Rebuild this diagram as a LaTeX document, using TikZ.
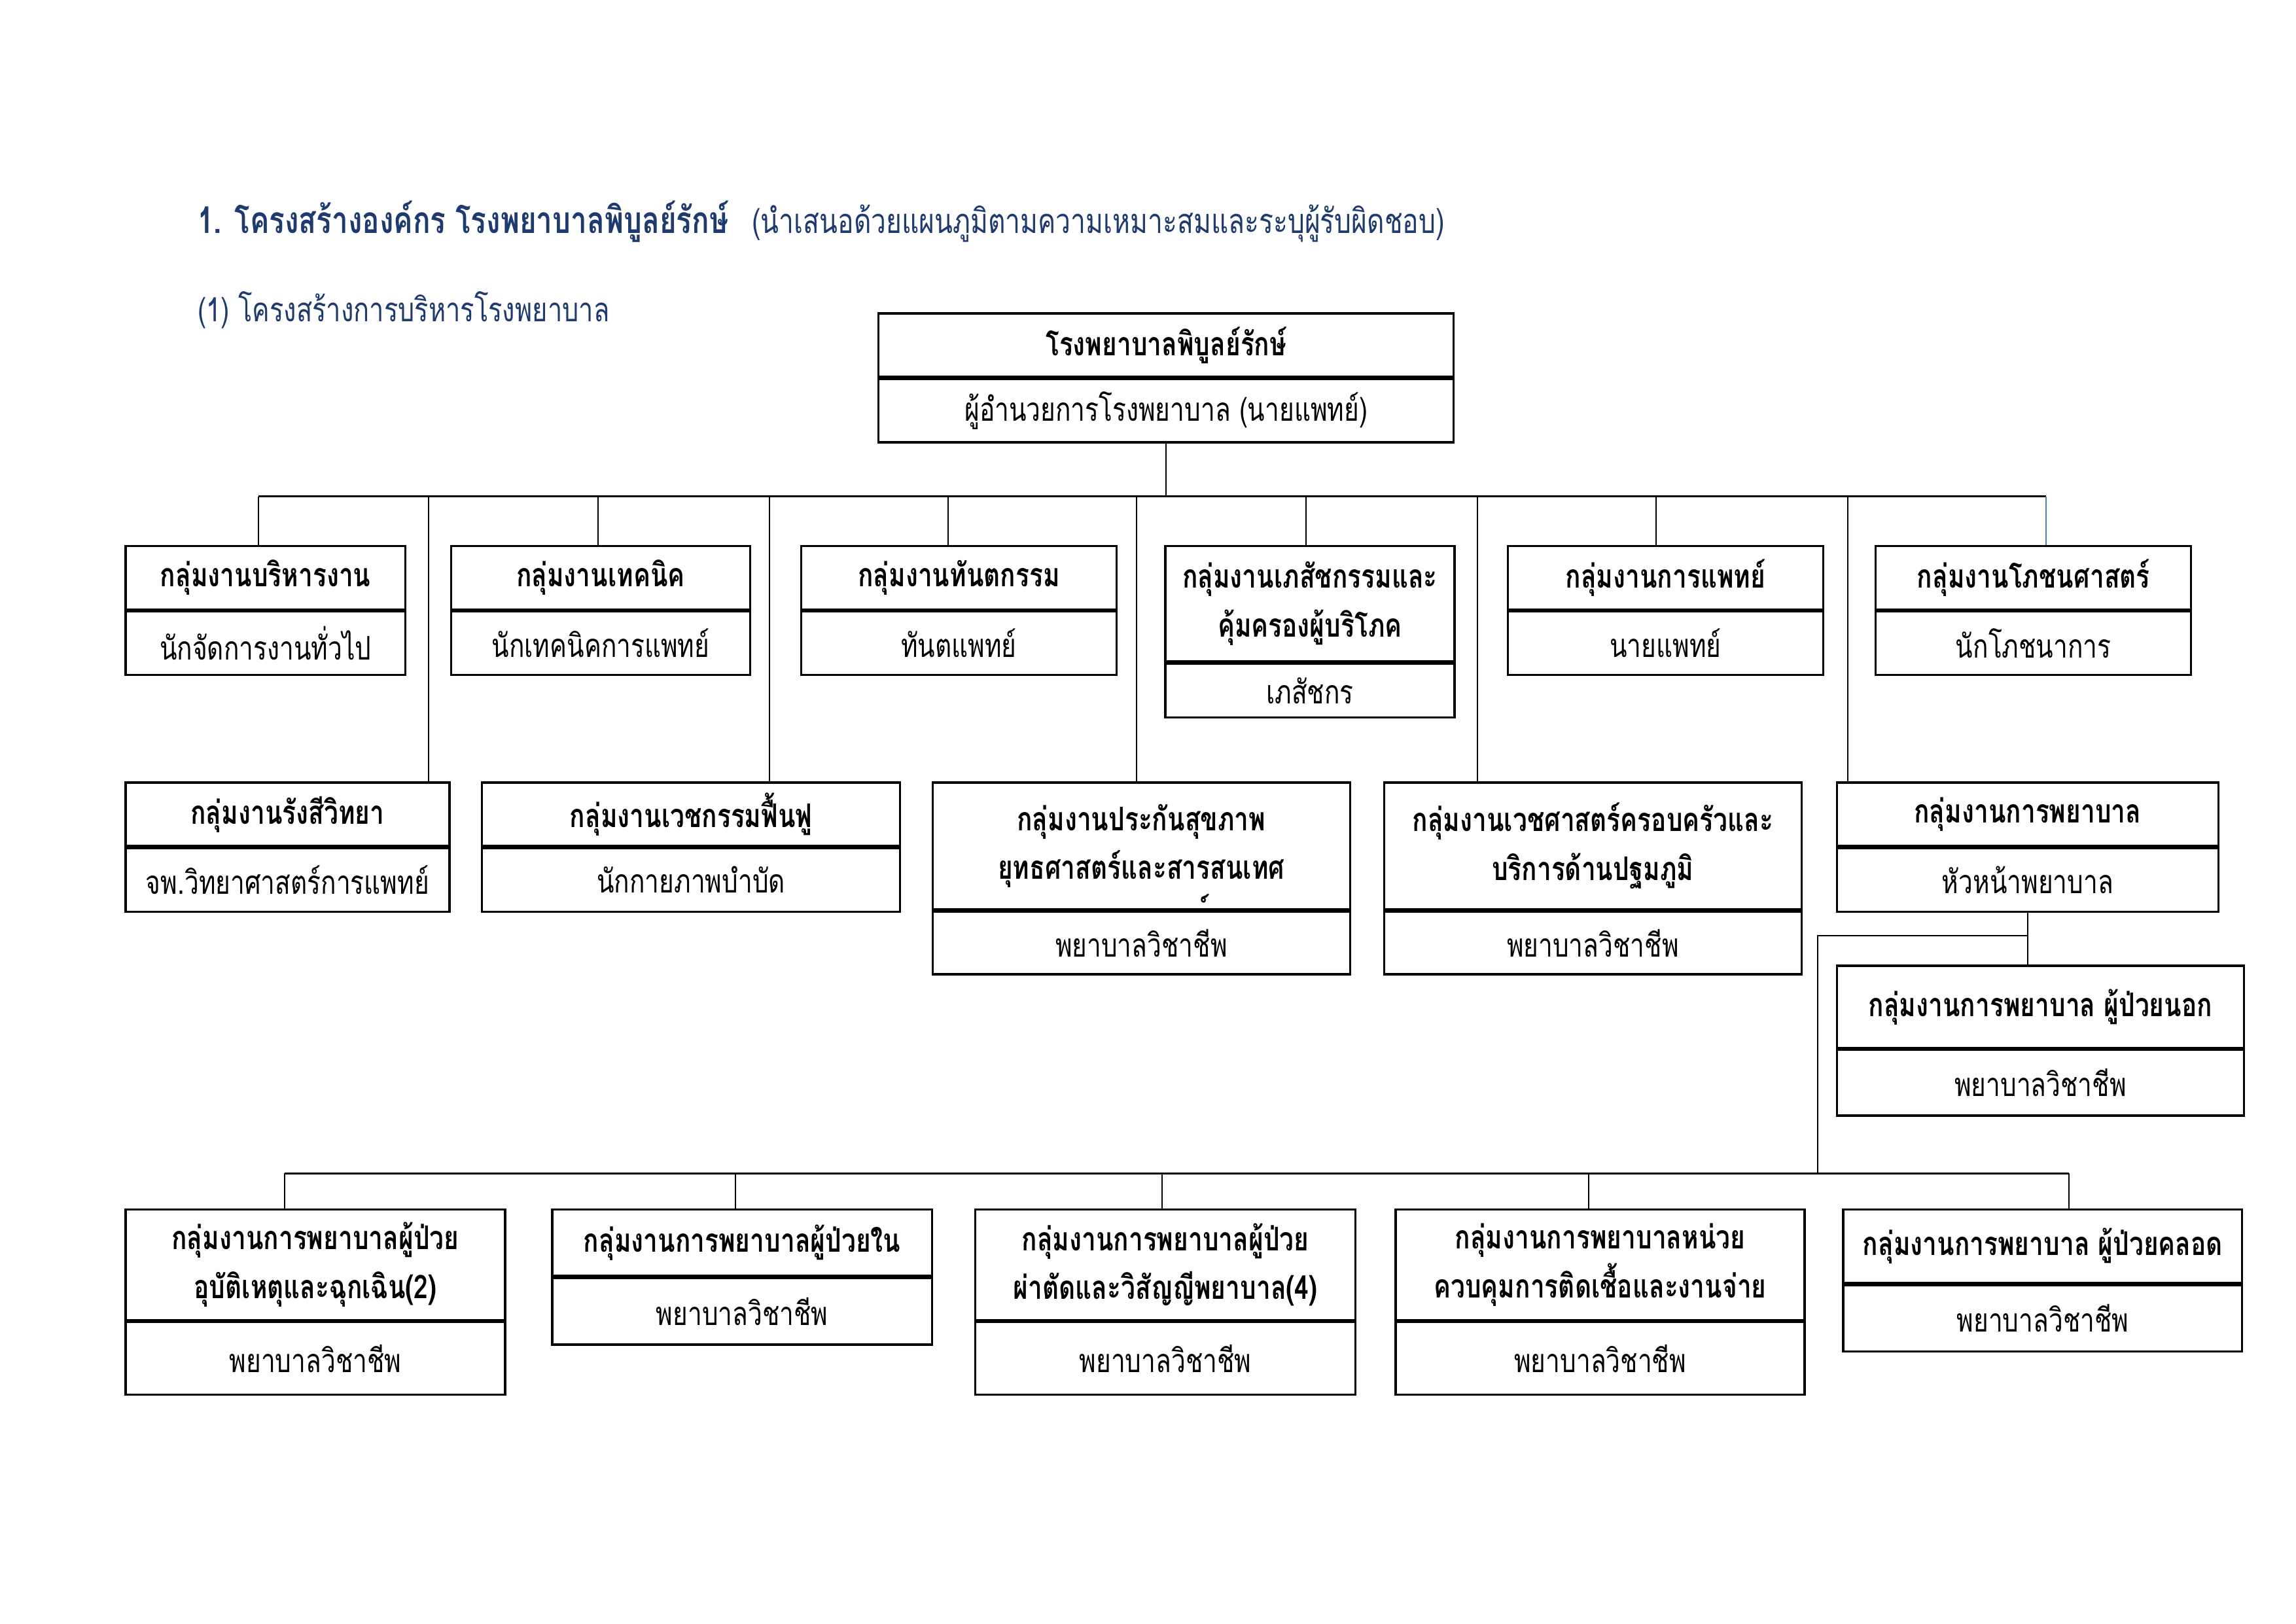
\documentclass[tikz,border=0pt]{standalone}
\usepackage{fontspec}
\newfontfamily\thaifont[Script=Thai, FakeStretch=0.78]{Loma}
\usetikzlibrary{positioning}
\definecolor{navy}{HTML}{1F3A6E}
\definecolor{linkblue}{HTML}{4F81BD}
\tikzset{grouphead/.style={
    draw=black,
    line width=0.8pt,
    anchor=north west,
    align=center,
    inner sep=0pt,
    font=\thaifont\fontsize{12}{18}\selectfont\bfseries}}
\tikzset{groupstaff/.style={
    draw=black,
    line width=0.8pt,
    align=center,
    inner sep=0pt,
    font=\thaifont\fontsize{12}{18}\selectfont}}
\tikzset{heading/.style={
    text=navy,
    inner sep=0pt,
    text height=3.6mm,
    text depth=1.2mm,
    font=\thaifont\fontsize{12.6}{16}\selectfont}}
\tikzset{link/.style={
    draw=black,
    line width=0.5pt}}
\tikzset{bus/.style={
    draw=black,
    line width=0.8pt}}

\begin{document}
\begin{tikzpicture}[x=1mm,y=-1mm]
\useasboundingbox (0,0) rectangle (297,210);

% headings
\node[heading, anchor=west, font=\thaifont\fontsize{13.6}{16}\selectfont\bfseries] (title) at (25.5,29.0) {1. โครงสร้างองค์กร โรงพยาบาลพิบูลย์รักษ์};
\node[heading, right=2.9mm of title] (title-note) {(นำเสนอด้วยแผนภูมิตามความเหมาะสมและระบุผู้รับผิดชอบ)};
\node[heading, anchor=west, font=\thaifont\fontsize{12.3}{16}\selectfont] (subtitle) at (25.5,40.4) {(1) โครงสร้างการบริหารโรงพยาบาล};

% director
\node[grouphead, minimum width=74.4mm, minimum height=8.2mm] (hosp) at (113.5,40.4) {โรงพยาบาลพิบูลย์รักษ์};
\node[groupstaff, minimum width=74.4mm, minimum height=8.2mm, below=0pt of hosp] (hosp-s) {ผู้อำนวยการโรงพยาบาล (นายแพทย์)};

% first row
\node[grouphead, minimum width=36.2mm, minimum height=8.2mm] (adm) at (16.1,70.5) {กลุ่มงานบริหารงาน};
\node[groupstaff, minimum width=36.2mm, minimum height=8.2mm, below=0pt of adm] (adm-s) {นักจัดการงานทั่วไป};
\node[grouphead, minimum width=38.7mm, minimum height=8.2mm] (tech) at (58.2,70.5) {กลุ่มงานเทคนิค};
\node[groupstaff, minimum width=38.7mm, minimum height=8.2mm, below=0pt of tech] (tech-s) {นักเทคนิคการแพทย์};
\node[grouphead, minimum width=40.8mm, minimum height=8.2mm] (dent) at (103.5,70.5) {กลุ่มงานทันตกรรม};
\node[groupstaff, minimum width=40.8mm, minimum height=8.2mm, below=0pt of dent] (dent-s) {ทันตแพทย์};
\node[grouphead, minimum width=37.4mm, minimum height=14.9mm] (pharm) at (150.6,70.5) {กลุ่มงานเภสัชกรรมและ\\คุ้มครองผู้บริโภค};
\node[groupstaff, minimum width=37.4mm, minimum height=7.0mm, below=0pt of pharm] (pharm-s) {เภสัชกร};
\node[grouphead, minimum width=40.8mm, minimum height=8.2mm] (med) at (194.9,70.5) {กลุ่มงานการแพทย์};
\node[groupstaff, minimum width=40.8mm, minimum height=8.2mm, below=0pt of med] (med-s) {นายแพทย์};
\node[grouphead, minimum width=40.8mm, minimum height=8.2mm] (nut) at (242.5,70.5) {กลุ่มงานโภชนศาสตร์};
\node[groupstaff, minimum width=40.8mm, minimum height=8.2mm, below=0pt of nut] (nut-s) {นักโภชนาการ};

% second row
\node[grouphead, minimum width=41.9mm, minimum height=8.2mm] (ray) at (16.1,101.1) {กลุ่มงานรังสีวิทยา};
\node[groupstaff, minimum width=41.9mm, minimum height=8.2mm, below=0pt of ray] (ray-s) {จพ.วิทยาศาสตร์การแพทย์};
\node[grouphead, minimum width=54.1mm, minimum height=8.2mm] (rehab) at (62.2,101.1) {กลุ่มงานเวชกรรมฟื้นฟู};
\node[groupstaff, minimum width=54.1mm, minimum height=8.2mm, below=0pt of rehab] (rehab-s) {นักกายภาพบำบัด};
\node[grouphead, minimum width=54.0mm, minimum height=16.4mm] (ins) at (120.5,101.1) {กลุ่มงานประกันสุขภาพ\\ยุทธศาสตร์และสารสนเทศ\smash{\rlap{\hspace*{-9.8mm}\raisebox{-6.4mm}{์}}}};
\node[groupstaff, minimum width=54.0mm, minimum height=8.1mm, below=0pt of ins] (ins-s) {พยาบาลวิชาชีพ};
\node[grouphead, minimum width=54.0mm, minimum height=16.4mm] (fam) at (178.9,101.1) {กลุ่มงานเวชศาสตร์ครอบครัวและ\\บริการด้านปฐมภูมิ};
\node[groupstaff, minimum width=54.0mm, minimum height=8.1mm, below=0pt of fam] (fam-s) {พยาบาลวิชาชีพ};
\node[grouphead, minimum width=49.3mm, minimum height=8.2mm] (nur) at (237.5,101.1) {กลุ่มงานการพยาบาล};
\node[groupstaff, minimum width=49.3mm, minimum height=8.2mm, below=0pt of nur] (nur-s) {หัวหน้าพยาบาล};
\node[grouphead, minimum width=52.6mm, minimum height=10.6mm] (opd) at (237.5,124.8) {กลุ่มงานการพยาบาล ผู้ป่วยนอก};
\node[groupstaff, minimum width=52.6mm, minimum height=8.5mm, below=0pt of opd] (opd-s) {พยาบาลวิชาชีพ};

% third row
\node[grouphead, minimum width=49.1mm, minimum height=14.3mm] (er) at (16.1,156.3) {กลุ่มงานการพยาบาลผู้ป่วย\\อุบัติเหตุและฉุกเฉิน(2)};
\node[groupstaff, minimum width=49.1mm, minimum height=9.4mm, below=0pt of er] (er-s) {พยาบาลวิชาชีพ};
\node[grouphead, minimum width=49.1mm, minimum height=8.6mm] (ipd) at (71.3,156.3) {กลุ่มงานการพยาบาลผู้ป่วยใน};
\node[groupstaff, minimum width=49.1mm, minimum height=8.6mm, below=0pt of ipd] (ipd-s) {พยาบาลวิชาชีพ};
\node[grouphead, minimum width=49.2mm, minimum height=14.3mm] (surg) at (126.0,156.3) {กลุ่มงานการพยาบาลผู้ป่วย\\ผ่าตัดและวิสัญญีพยาบาล(4)};
\node[groupstaff, minimum width=49.2mm, minimum height=9.4mm, below=0pt of surg] (surg-s) {พยาบาลวิชาชีพ};
\node[grouphead, minimum width=52.9mm, minimum height=14.3mm] (ic) at (180.4,156.3) {กลุ่มงานการพยาบาลหน่วย\\ควบคุมการติดเชื้อและงานจ่าย};
\node[groupstaff, minimum width=52.9mm, minimum height=9.4mm, below=0pt of ic] (ic-s) {พยาบาลวิชาชีพ};
\node[grouphead, minimum width=51.6mm, minimum height=9.5mm] (lr) at (238.3,156.3) {กลุ่มงานการพยาบาล ผู้ป่วยคลอด};
\node[groupstaff, minimum width=51.6mm, minimum height=8.6mm, below=0pt of lr] (lr-s) {พยาบาลวิชาชีพ};

% connectors
\coordinate (bus1) at (0,64.2);
\coordinate (bus2) at (0,151.8);
\draw[link] (hosp-s.south) -- (hosp-s.south |- bus1);
\foreach \n/\s in {adm/-0.9mm,tech/-0.35mm,dent/-1.4mm,pharm/-0.5mm,med/-1.2mm,nut/1.6mm}
  \coordinate (d-\n) at ([xshift=\s]\n.north);
\draw[bus] (d-adm |- bus1) -- (d-nut |- bus1);
\foreach \n in {adm,tech,dent,pharm,med}
  \draw[link] (d-\n) -- (d-\n |- bus1);
\draw[link, draw=linkblue] (d-nut) -- (d-nut |- bus1);
\foreach \x/\n in {55.4/ray,99.5/rehab,147.0/ins,191.1/fam,239.0/nur}{
  \coordinate (up-\n) at (\x,64.2);
  \draw[link] (up-\n) -- (up-\n |- \n.north);
}
\draw[link] (nur-s.south) -- (nur-s.south |- opd.north);
\coordinate (split) at (235.1,121.0);
\draw[link] (nur-s.south |- split) -- (split) -- (split |- bus2);
\foreach \x/\n in {36.8/er,95.1/ipd,150.3/surg,205.5/ic,267.6/lr}{
  \coordinate (dn-\n) at (\x,151.8);
  \draw[link] (dn-\n) -- (dn-\n |- \n.north);
}
\draw[bus] (dn-er) -- (dn-lr);
\end{tikzpicture}
\end{document}
